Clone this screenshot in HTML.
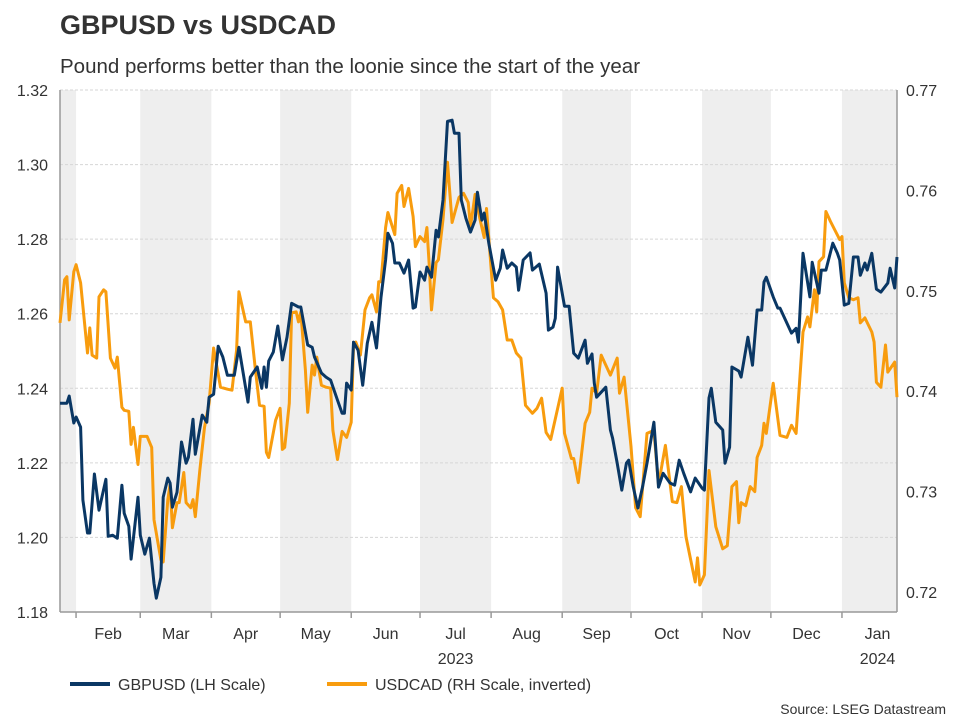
<!DOCTYPE html>
<html><head><meta charset="utf-8">
<style>
body{margin:0;background:#fff;font-family:"Liberation Sans",Arial,sans-serif;}
svg text{font-family:"Liberation Sans",Arial,sans-serif;}
</style></head>
<body>
<svg id="chart" width="960" height="720" viewBox="0 0 960 720" xmlns="http://www.w3.org/2000/svg">
<text x="60" y="34" font-size="27" font-weight="bold" fill="#333">GBPUSD vs USDCAD</text>
<text x="60" y="73" font-size="20.5" fill="#333">Pound performs better than the loonie since the start of the year</text>
<g id="bands"></g><g id="grid"></g><g id="axes"></g><g id="lines"></g>
<g>
<line x1="70" y1="684" x2="110" y2="684" stroke="#0a3764" stroke-width="4"/>
<text x="118" y="690" font-size="16" fill="#333">GBPUSD (LH Scale)</text>
<line x1="327" y1="684" x2="367" y2="684" stroke="#f89c0e" stroke-width="4"/>
<text x="375" y="690" font-size="16" fill="#333">USDCAD (RH Scale, inverted)</text>
</g>
<text x="946" y="714" font-size="14" fill="#333" text-anchor="end">Source: LSEG Datastream</text>
</svg>
<script>
// day offsets from 2023-01-25
const gbpDays=[0,3,4,6,7,9,10,12,13,15,17,20,21,23,25,27,28,30,31,34,35,37,39,41,42,44,45,47,48,49,51,53,55,56,58,59,62,64,65,67,69,71,73,76,78,82,83,86,88,89,90,91,93,95,97,99,101,104,105,108,110,111,114,116,118,121,123,124,125,127,128,130,132,134,136,138,140,142,143,145,146,148,150,152,154,155,157,159,160,162,164,165,167,169,171,172,174,175,177,179,181,182,184,185,187,190,192,193,195,197,199,200,202,205,206,209,212,213,215,216,217,220,222,224,226,229,230,232,233,234,238,240,241,243,245,247,248,250,252,254,256,259,261,263,266,268,270,272,275,277,280,281,283,284,286,289,290,292,293,296,297,300,302,304,306,307,308,311,313,314,319,321,322,324,327,328,331,332,334,337,339,340,342,344,346,348,349,351,352,354,356,358,361,362,364,365];
const gbpValues=[1.2360,1.2360,1.2379,1.2307,1.2323,1.2296,1.2100,1.2012,1.2012,1.2170,1.2073,1.2156,1.2003,1.2006,1.1998,1.2140,1.2065,1.2030,1.1942,1.2108,1.2006,1.1955,1.1998,1.1877,1.1837,1.1893,1.2108,1.2159,1.2146,1.2081,1.2121,1.2256,1.2199,1.2215,1.2317,1.2223,1.2328,1.2309,1.2376,1.2384,1.2513,1.2484,1.2435,1.2435,1.2510,1.2363,1.2430,1.2457,1.2400,1.2457,1.2403,1.2473,1.2497,1.2567,1.2476,1.2537,1.2628,1.2618,1.2618,1.2516,1.2510,1.2484,1.2441,1.2430,1.2422,1.2368,1.2333,1.2333,1.2414,1.2395,1.2524,1.2502,1.2408,1.2521,1.2577,1.2508,1.2644,1.2744,1.2816,1.2789,1.2736,1.2736,1.2709,1.2744,1.2615,1.2618,1.2712,1.2690,1.2725,1.2698,1.2824,1.2806,1.2905,1.3116,1.3119,1.3084,1.3084,1.2905,1.2856,1.2819,1.2851,1.2926,1.2851,1.2870,1.2789,1.2690,1.2722,1.2771,1.2722,1.2736,1.2725,1.2663,1.2744,1.2763,1.2717,1.2733,1.2655,1.2556,1.2564,1.2588,1.2725,1.2620,1.2620,1.2494,1.2481,1.2529,1.2467,1.2492,1.2414,1.2376,1.2403,1.2288,1.2266,1.2199,1.2127,1.2199,1.2207,1.2135,1.2079,1.2135,1.2199,1.2309,1.2135,1.2172,1.2146,1.2140,1.2207,1.2172,1.2122,1.2159,1.2132,1.2127,1.2374,1.2400,1.2309,1.2288,1.2199,1.2242,1.2457,1.2446,1.2430,1.2537,1.2462,1.2610,1.2610,1.2685,1.2698,1.2645,1.2615,1.2615,1.2548,1.2561,1.2524,1.2762,1.2645,1.2738,1.2655,1.2717,1.2717,1.2789,1.2762,1.2744,1.2623,1.2628,1.2752,1.2752,1.2703,1.2736,1.2717,1.2762,1.2666,1.2658,1.2682,1.2722,1.2669,1.2752];
const cadDays=[0,2,3,4,6,7,9,12,13,14,16,17,19,20,22,24,25,27,28,30,31,32,34,35,38,40,41,44,45,47,48,49,51,52,54,55,57,58,59,61,63,65,67,70,73,75,77,78,81,83,85,87,89,90,91,94,96,97,98,100,101,103,104,105,107,108,110,111,112,114,116,118,119,121,123,125,127,128,129,131,133,135,136,138,139,140,142,143,146,147,149,150,152,154,155,157,159,160,161,162,164,165,167,169,171,174,176,178,179,181,183,185,186,189,191,193,195,197,199,201,203,206,208,210,212,214,219,220,223,224,226,229,231,232,234,236,240,243,244,246,249,251,253,256,259,261,264,267,269,271,273,277,278,279,281,283,286,289,291,293,295,296,297,299,301,303,304,306,307,308,311,314,317,319,321,324,326,327,329,330,331,333,334,336,340,341,342,344,346,348,349,351,354,355,356,358,360,361,364,365];
const cadValues=[0.7468,0.7511,0.7514,0.7471,0.7519,0.7526,0.7508,0.7438,0.7463,0.7436,0.7433,0.7494,0.7501,0.7499,0.7433,0.7423,0.7434,0.7384,0.7381,0.7380,0.7347,0.7364,0.7327,0.7355,0.7355,0.7344,0.7272,0.7232,0.7230,0.7292,0.7307,0.7264,0.7289,0.7289,0.7319,0.7289,0.7284,0.7292,0.7275,0.7322,0.7364,0.7388,0.7443,0.7404,0.7402,0.7401,0.7441,0.7499,0.7469,0.7469,0.7426,0.7386,0.7385,0.7339,0.7334,0.7371,0.7383,0.7342,0.7344,0.7388,0.7478,0.7479,0.7469,0.7479,0.7421,0.7379,0.7426,0.7416,0.7434,0.7406,0.7404,0.7403,0.7361,0.7332,0.7360,0.7354,0.7369,0.7444,0.7449,0.7436,0.7481,0.7493,0.7496,0.7479,0.7509,0.7509,0.7563,0.7578,0.7556,0.7597,0.7605,0.7584,0.7602,0.7574,0.7544,0.7554,0.7549,0.7563,0.7526,0.7481,0.7528,0.7531,0.7571,0.7628,0.7568,0.7593,0.7597,0.7588,0.7564,0.7596,0.7573,0.7553,0.7582,0.7493,0.7489,0.7481,0.7451,0.7451,0.7438,0.7433,0.7386,0.7378,0.7383,0.7393,0.7359,0.7352,0.7403,0.7358,0.7333,0.7333,0.7309,0.7368,0.7379,0.7403,0.7398,0.7436,0.7416,0.7433,0.7398,0.7414,0.7345,0.7284,0.7275,0.7358,0.7361,0.7307,0.7346,0.7290,0.7289,0.7305,0.7255,0.7210,0.7234,0.7207,0.7217,0.7321,0.7265,0.7243,0.7246,0.7305,0.7310,0.7269,0.7289,0.7286,0.7305,0.7300,0.7334,0.7346,0.7368,0.7358,0.7408,0.7356,0.7354,0.7366,0.7358,0.7459,0.7474,0.7464,0.7501,0.7479,0.7529,0.7534,0.7579,0.7569,0.7551,0.7554,0.7508,0.7493,0.7491,0.7493,0.7468,0.7473,0.7459,0.7449,0.7409,0.7404,0.7446,0.7419,0.7429,0.7394];
const leftTicks=[1.18,1.20,1.22,1.24,1.26,1.28,1.30,1.32];
const rightTicks=[0.72,0.73,0.74,0.75,0.76,0.77];
const monthStarts=[7,35,66,96,127,157,188,219,249,280,310,341];
const monthLabels=["Feb","Mar","Apr","May","Jun","Jul","Aug","Sep","Oct","Nov","Dec","Jan"];
const yearLabels=[{label:"2023",month:5},{label:"2024",month:11}];
const dayMax=365;

const X0=60,X1=897,Y0=90,Y1=612;
const xs=d=>X0+(d/dayMax)*(X1-X0);
const yl=v=>Y1-(v-1.18)/(1.32-1.18)*(Y1-Y0);
const yr=v=>592-(v-0.72)/(0.77-0.72)*(592-90);
const NS="http://www.w3.org/2000/svg";
function mk(parent,tag,attrs){const e=document.createElementNS(NS,tag);for(const k in attrs)e.setAttribute(k,attrs[k]);parent.appendChild(e);return e;}
const bands=document.getElementById('bands'),grid=document.getElementById('grid'),axes=document.getElementById('axes'),lines=document.getElementById('lines');

// shaded alternating months
const edges=[0].concat(monthStarts,[dayMax]);
for(let i=0;i<edges.length-1;i++){
  if(i%2===0){
    const r=mk(bands,'rect',{x:xs(edges[i]),y:Y0,width:xs(edges[i+1])-xs(edges[i]),height:Y1-Y0,fill:'#eeeeee'});
    
    
  }
}
leftTicks.forEach(v=>{
  if(v>1.18){const l=mk(grid,'line',{x1:X0,x2:X1,y1:yl(v),y2:yl(v),stroke:'#d6d6d6','stroke-dasharray':'3,2','stroke-width':1});
  
  }
  const t=mk(axes,'text',{x:48,y:yl(v)+6,'font-size':16,fill:'#333','text-anchor':'end'});t.textContent=v.toFixed(2);
  
  
});
rightTicks.forEach(v=>{
  const t=mk(axes,'text',{x:906,y:yr(v)+6,'font-size':16,fill:'#333'});t.textContent=v.toFixed(2);
  
  
});
mk(axes,'line',{x1:X0,x2:X0,y1:Y0,y2:Y1,stroke:'#999','stroke-width':1.5});
mk(axes,'line',{x1:X1,x2:X1,y1:Y0,y2:Y1,stroke:'#999','stroke-width':1.5});
mk(axes,'line',{x1:X0,x2:X1,y1:Y1,y2:Y1,stroke:'#999','stroke-width':1.5});
monthStarts.forEach((d,i)=>{
  mk(axes,'line',{x1:xs(d),x2:xs(d),y1:Y1,y2:Y1+6,stroke:'#999','stroke-width':1.5});
  const end=i<monthStarts.length-1?monthStarts[i+1]:Math.min(d+31,dayMax+8);
  const t=mk(axes,'text',{x:(xs(d)+xs(end))/2,y:639,'font-size':16,fill:'#333','text-anchor':'middle'});t.textContent=monthLabels[i];
  
  
});
yearLabels.forEach(o=>{
  const d=monthStarts[o.month];const end=o.month<monthStarts.length-1?monthStarts[o.month+1]:d+31;
  const t=mk(axes,'text',{x:(xs(d)+xs(end))/2,y:664,'font-size':16,fill:'#333','text-anchor':'middle'});t.textContent=o.label;
  
  
});
function path(days,vals,yf){return days.map((d,i)=>(i?'L':'M')+xs(d).toFixed(1)+','+yf(vals[i]).toFixed(1)).join('');}
const pc=mk(lines,'path',{d:path(cadDays,cadValues,yr),fill:'none',stroke:'#f89c0e','stroke-width':3,'stroke-linejoin':'round'});


const pg=mk(lines,'path',{d:path(gbpDays,gbpValues,yl),fill:'none',stroke:'#0a3764','stroke-width':3,'stroke-linejoin':'round'});


</script>
</body></html>
